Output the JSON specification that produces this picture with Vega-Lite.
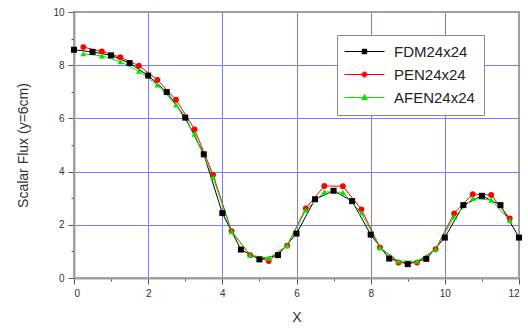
{
  "$schema": "https://vega.github.io/schema/vega-lite/v6.json",
  "width": 445,
  "height": 266,
  "autosize": "none",
  "padding": {"left": 74, "top": 12, "right": 9, "bottom": 50},
  "background": "white",
  "config": {
    "view": {"stroke": "#a0a0a0", "strokeWidth": 2},
    "font": "Liberation Sans",
    "axis": {
      "domainColor": "#a0a0a0",
      "domainWidth": 2,
      "tickColor": "#555",
      "tickWidth": 1,
      "labelFont": "Liberation Sans",
      "labelFontSize": 10,
      "labelColor": "#333",
      "titleFont": "Liberation Sans",
      "titleFontWeight": "normal",
      "titleColor": "#333",
      "gridColor": "#7b7bff",
      "gridWidth": 1
    }
  },
  "data": {
    "values": [
      {"s": "FDM24x24", "x": 0, "y": 8.58},
      {"s": "FDM24x24", "x": 0.5, "y": 8.5},
      {"s": "FDM24x24", "x": 1.0, "y": 8.37},
      {"s": "FDM24x24", "x": 1.5, "y": 8.08},
      {"s": "FDM24x24", "x": 2.0, "y": 7.61},
      {"s": "FDM24x24", "x": 2.5, "y": 6.99},
      {"s": "FDM24x24", "x": 3.0, "y": 6.03},
      {"s": "FDM24x24", "x": 3.5, "y": 4.65},
      {"s": "FDM24x24", "x": 4.0, "y": 2.44},
      {"s": "FDM24x24", "x": 4.5, "y": 1.07},
      {"s": "FDM24x24", "x": 5.0, "y": 0.7},
      {"s": "FDM24x24", "x": 5.5, "y": 0.86},
      {"s": "FDM24x24", "x": 6.0, "y": 1.67},
      {"s": "FDM24x24", "x": 6.5, "y": 2.96},
      {"s": "FDM24x24", "x": 7.0, "y": 3.28},
      {"s": "FDM24x24", "x": 7.5, "y": 2.89},
      {"s": "FDM24x24", "x": 8.0, "y": 1.63},
      {"s": "FDM24x24", "x": 8.5, "y": 0.73},
      {"s": "FDM24x24", "x": 9.0, "y": 0.52},
      {"s": "FDM24x24", "x": 9.5, "y": 0.72},
      {"s": "FDM24x24", "x": 10.0, "y": 1.52},
      {"s": "FDM24x24", "x": 10.5, "y": 2.74},
      {"s": "FDM24x24", "x": 11.0, "y": 3.09},
      {"s": "FDM24x24", "x": 11.5, "y": 2.74},
      {"s": "FDM24x24", "x": 12.0, "y": 1.52},
      {"s": "PEN24x24", "x": 0.25, "y": 8.68},
      {"s": "PEN24x24", "x": 0.75, "y": 8.52},
      {"s": "PEN24x24", "x": 1.25, "y": 8.3},
      {"s": "PEN24x24", "x": 1.75, "y": 7.98},
      {"s": "PEN24x24", "x": 2.25, "y": 7.45},
      {"s": "PEN24x24", "x": 2.75, "y": 6.7},
      {"s": "PEN24x24", "x": 3.25, "y": 5.59},
      {"s": "PEN24x24", "x": 3.75, "y": 3.88},
      {"s": "PEN24x24", "x": 4.25, "y": 1.76},
      {"s": "PEN24x24", "x": 4.75, "y": 0.86},
      {"s": "PEN24x24", "x": 5.25, "y": 0.64},
      {"s": "PEN24x24", "x": 5.75, "y": 1.22},
      {"s": "PEN24x24", "x": 6.25, "y": 2.62},
      {"s": "PEN24x24", "x": 6.75, "y": 3.46},
      {"s": "PEN24x24", "x": 7.25, "y": 3.45},
      {"s": "PEN24x24", "x": 7.75, "y": 2.58},
      {"s": "PEN24x24", "x": 8.25, "y": 1.15},
      {"s": "PEN24x24", "x": 8.75, "y": 0.58},
      {"s": "PEN24x24", "x": 9.25, "y": 0.58},
      {"s": "PEN24x24", "x": 9.75, "y": 1.08},
      {"s": "PEN24x24", "x": 10.25, "y": 2.43},
      {"s": "PEN24x24", "x": 10.75, "y": 3.15},
      {"s": "PEN24x24", "x": 11.25, "y": 3.12},
      {"s": "PEN24x24", "x": 11.75, "y": 2.24},
      {"s": "AFEN24x24", "x": 0.25, "y": 8.43},
      {"s": "AFEN24x24", "x": 0.75, "y": 8.35},
      {"s": "AFEN24x24", "x": 1.25, "y": 8.13},
      {"s": "AFEN24x24", "x": 1.75, "y": 7.78},
      {"s": "AFEN24x24", "x": 2.25, "y": 7.26},
      {"s": "AFEN24x24", "x": 2.75, "y": 6.51},
      {"s": "AFEN24x24", "x": 3.25, "y": 5.41},
      {"s": "AFEN24x24", "x": 3.75, "y": 3.78},
      {"s": "AFEN24x24", "x": 4.25, "y": 1.74},
      {"s": "AFEN24x24", "x": 4.75, "y": 0.86},
      {"s": "AFEN24x24", "x": 5.25, "y": 0.75},
      {"s": "AFEN24x24", "x": 5.75, "y": 1.22},
      {"s": "AFEN24x24", "x": 6.25, "y": 2.55},
      {"s": "AFEN24x24", "x": 6.75, "y": 3.24},
      {"s": "AFEN24x24", "x": 7.25, "y": 3.22},
      {"s": "AFEN24x24", "x": 7.75, "y": 2.45},
      {"s": "AFEN24x24", "x": 8.25, "y": 1.14},
      {"s": "AFEN24x24", "x": 8.75, "y": 0.64},
      {"s": "AFEN24x24", "x": 9.25, "y": 0.63},
      {"s": "AFEN24x24", "x": 9.75, "y": 1.08},
      {"s": "AFEN24x24", "x": 10.25, "y": 2.3},
      {"s": "AFEN24x24", "x": 10.75, "y": 2.99},
      {"s": "AFEN24x24", "x": 11.25, "y": 2.93},
      {"s": "AFEN24x24", "x": 11.75, "y": 2.17}
    ]
  },
  "encoding": {
    "x": {
      "field": "x", "type": "quantitative",
      "scale": {"domain": [0, 12], "nice": false, "zero": false},
      "axis": {
        "title": "X", "titleFontSize": 14, "titlePadding": 12,
        "values": [0,1,2,3,4,5,6,7,8,9,10,11,12],
        "labelExpr": "datum.value % 2 == 0 ? datum.label : ''",
        "tickSize": {"condition": {"test": "datum.value % 2 == 1", "value": 3}, "value": 6},
        "labelPadding": 4,
        "grid": true,
        "gridOpacity": {"condition": {"test": "datum.value % 2 == 1 || datum.value == 0 || datum.value == 12", "value": 0}, "value": 1}
      }
    },
    "y": {
      "field": "y", "type": "quantitative",
      "scale": {"domain": [0, 10], "nice": false},
      "axis": {
        "title": "Scalar Flux (y=6cm)", "titleFontSize": 14, "titlePadding": 22,
        "values": [0,1,2,3,4,5,6,7,8,9,10],
        "labelExpr": "datum.value % 2 == 0 ? datum.label : ''",
        "tickSize": {"condition": {"test": "datum.value % 2 == 1", "value": 3}, "value": 6},
        "labelPadding": 4,
        "grid": true,
        "gridOpacity": {"condition": {"test": "datum.value % 2 == 1 || datum.value == 0 || datum.value == 10", "value": 0}, "value": 1}
      }
    },
    "color": {
      "field": "s", "type": "nominal",
      "scale": {"domain": ["FDM24x24", "PEN24x24", "AFEN24x24"], "range": ["#000000", "#ff0000", "#00e600"]},
      "legend": {
        "title": null,
        "orient": "none",
        "legendX": 263,
        "legendY": 23,
        "fillColor": "white",
        "strokeColor": "#888",
        "padding": 9,
        "labelFont": "Liberation Sans",
        "labelFontSize": 15,
        "labelColor": "#222",
        "symbolSize": 100,
        "symbolOffset": 11,
        "labelOffset": 22,
        "rowPadding": 7,
        "symbolStrokeWidth": 1,
        "encode": {
          "symbols": {
            "update": {
              "shape": {"signal": "datum.value == 'FDM24x24' ? 'M-4,0H4M-0.45,-0.45H0.45V0.45H-0.45Z' : datum.value == 'PEN24x24' ? 'M-4,0H4M-0.5,0A0.5,0.5 0 1,0 0.5,0A0.5,0.5 0 1,0 -0.5,0Z' : 'M-4,0H4M0,-0.6L0.55,0.4H-0.55Z'"},
              "fill": {"signal": "datum.value == 'FDM24x24' ? '#000' : datum.value == 'PEN24x24' ? '#ff0000' : '#00e600'"},
              "stroke": {"signal": "datum.value == 'FDM24x24' ? '#555' : datum.value == 'PEN24x24' ? '#ff0000' : '#00e600'"},
              "strokeWidth": {"value": 1},
              "opacity": {"value": 1}
            }
          }
        }
      }
    }
  },
  "layer": [
    {
      "mark": {"type": "line", "strokeWidth": 1},
      "encoding": {"detail": {"field": "s"}}
    },
    {
      "transform": [{"filter": "datum.s == 'PEN24x24'"}],
      "mark": {"type": "point", "filled": true, "opacity": 1, "size": 34, "shape": "circle"}
    },
    {
      "transform": [{"filter": "datum.s == 'AFEN24x24'"}],
      "mark": {"type": "point", "filled": true, "opacity": 1, "size": 36, "shape": "triangle-up"}
    },
    {
      "transform": [{"filter": "datum.s == 'FDM24x24'"}],
      "mark": {"type": "point", "filled": true, "opacity": 1, "size": 36, "shape": "square"}
    }
  ]
}
